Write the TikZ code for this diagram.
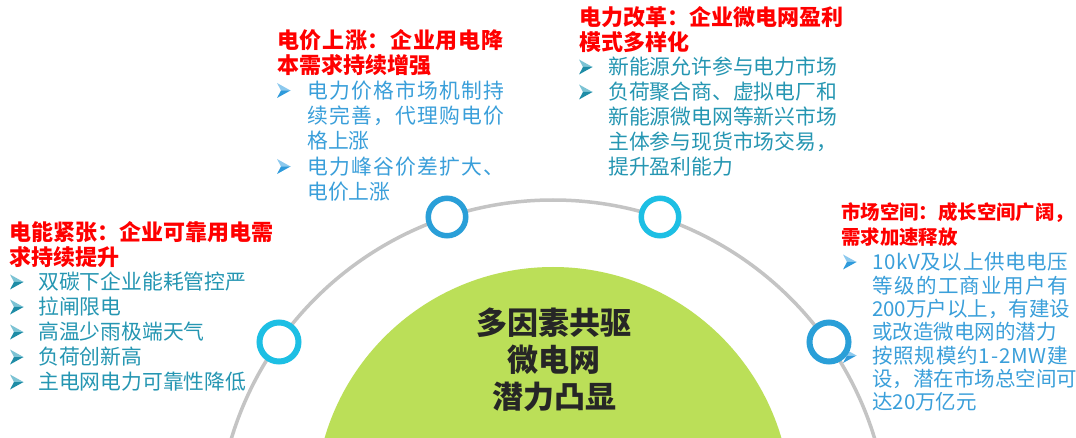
\documentclass[tikz,border=0pt]{standalone}
\usepackage{fontspec}
\setmainfont{Noto Sans CJK SC}
\definecolor{titlered}{HTML}{FF0000}
\definecolor{tealtxt}{HTML}{2596B2}
\definecolor{bluetxt}{HTML}{3A9FDA}
\definecolor{tealdk}{HTML}{1E8CA6}
\definecolor{tealhi}{HTML}{7CC3D4}
\definecolor{bluedk}{HTML}{2E9ADB}
\definecolor{bluehi}{HTML}{8CC9EE}
\definecolor{ringcyan}{HTML}{1DBFE4}
\definecolor{ringblue}{HTML}{2A9FD8}
\definecolor{arcgray}{HTML}{C4C4C4}
\definecolor{hubgreen}{HTML}{BBDF58}
\definecolor{hubtext}{HTML}{262626}
\makeatletter
\newcommand\spreadline[2]{\makebox[#1][s]{\let\sl@sep\relax\@tfor\sl@c:=#2\do{\sl@sep\sl@c\let\sl@sep\hfill}}}
\makeatother
\tikzset{
  ttl/.style={anchor=west,inner sep=0pt,text=titlered,font=\bfseries\fontsize{22}{26}\selectfont},
  ttlR/.style={anchor=west,inner sep=0pt,text=titlered,font=\bfseries\fontsize{19.4}{24}\selectfont},
  txtT/.style={anchor=west,inner sep=0pt,text=tealtxt,font=\fontsize{20.8}{25}\selectfont},
  txtB/.style={anchor=west,inner sep=0pt,text=bluetxt,font=\fontsize{20.8}{25}\selectfont},
  txtBR/.style={anchor=west,inner sep=0pt,text=bluetxt,font=\fontsize{20.5}{24}\selectfont},
  hub/.style={inner sep=0pt,text=hubtext,font=\bfseries\fontsize{31}{37}\selectfont},
  ring/.style={circle,fill=white,inner sep=0pt},
  pics/bulteal/.style={code={
    \fill[tealhi] (0,-7.5) -- (13.5,0) -- (4,0) -- cycle;
    \fill[tealdk] (0,7.5) -- (13.5,0) -- (4,0) -- cycle;}},
  pics/bulblue/.style={code={
    \fill[bluehi] (0,-7.5) -- (13.5,0) -- (4,0) -- cycle;
    \fill[bluedk] (0,7.5) -- (13.5,0) -- (4,0) -- cycle;}},
}
\begin{document}
\begin{tikzpicture}[x=1pt,y=-1pt]
\clip (0,0) rectangle (1076,438);
\fill[white] (0,0) rectangle (1076,438);
% outer arc and green hub
\draw[arcgray,line width=3.5pt] (553,536) circle[radius=336pt];
\fill[hubgreen] (553,505) circle[radius=238pt];
\node[hub] (h1) at (554,323) {多因素共驱};
\node[hub] (h2) at (554,360) {微电网};
\node[hub] (h3) at (554,397) {潜力凸显};
% left block
\node[ttl] (lt1) at (9,232) {电能紧张：企业可靠用电需};
\node[ttl] (lt2) at (9,257) {求持续提升};
\pic at (10,282) {bulteal}; \node[txtT] (lb1) at (38,282) {双碳下企业能耗管控严};
\pic at (10,307) {bulteal}; \node[txtT] (lb2) at (38,307) {拉闸限电};
\pic at (10,332) {bulteal}; \node[txtT] (lb3) at (38,332) {高温少雨极端天气};
\pic at (10,357) {bulteal}; \node[txtT] (lb4) at (38,357) {负荷创新高};
\pic at (10,382) {bulteal}; \node[txtT] (lb5) at (38,382) {主电网电力可靠性降低};
% top-center block
\node[ttl] (ct1) at (277,40) {\spreadline{226pt}{电价上涨：企业用电降}};
\node[ttl] (ct2) at (277,65) {本需求持续增强};
\pic at (277,90.5) {bulblue}; \node[txtB] (cb1) at (307,90.5) {\spreadline{197pt}{电力价格市场机制持}};
\node[txtB] (cb2) at (307,115.5) {\spreadline{197pt}{续完善，代理购电价}};
\node[txtB] (cb3) at (307,141) {格上涨};
\pic at (277,166.5) {bulblue}; \node[txtB] (cb4) at (307,166.5) {\spreadline{197pt}{电力峰谷价差扩大、}};
\node[txtB] (cb5) at (307,192) {电价上涨};
% top-right block
\node[ttl] (rt1) at (579,17) {电力改革：企业微电网盈利};
\node[ttl] (rt2) at (579,42) {模式多样化};
\pic at (579,67) {bulteal}; \node[txtT] (rb1) at (608,67) {新能源允许参与电力市场};
\pic at (579,92) {bulteal}; \node[txtT] (rb2) at (608,92) {负荷聚合商、虚拟电厂和};
\node[txtT] (rb3) at (608,117) {新能源微电网等新兴市场};
\node[txtT] (rb4) at (608,142) {主体参与现货市场交易，};
\node[txtT] (rb5) at (608,167) {提升盈利能力};
% right block
\node[ttlR] (st1) at (841,213) {市场空间：成长空间广阔，};
\node[ttlR] (st2) at (841,237) {需求加速释放};
\pic at (843,262) {bulblue}; \node[txtBR] (sb1) at (872,262) {\spreadline{196pt}{10kV及以上供电电压}};
\node[txtBR] (sb2) at (872,285.5) {\spreadline{196pt}{等级的工商业用户有}};
\node[txtBR] (sb3) at (872,309) {\spreadline{196pt}{200万户以上，有建设}};
\node[txtBR] (sb4) at (872,332) {或改造微电网的潜力};
\pic at (843,355.5) {bulblue}; \node[txtBR] (sb5) at (872,355.5) {\spreadline{196pt}{按照规模约1-2MW建}};
\node[txtBR] (sb6) at (872,379) {\spreadline{196pt}{设，潜在市场总空间可}};
\node[txtBR] (sb7) at (872,402) {达20万亿元};
% rings on the arc
\node[ring,draw=ringcyan,line width=6pt,minimum size=39pt] (c1) at (279,342) {};
\node[ring,draw=ringblue,line width=5.5pt,minimum size=37.5pt] (c2) at (447,217) {};
\node[ring,draw=ringcyan,line width=5.5pt,minimum size=37.5pt] (c3) at (660,217) {};
\node[ring,draw=ringblue,line width=6pt,minimum size=39pt] (c4) at (829,342) {};
\end{tikzpicture}
\end{document}
